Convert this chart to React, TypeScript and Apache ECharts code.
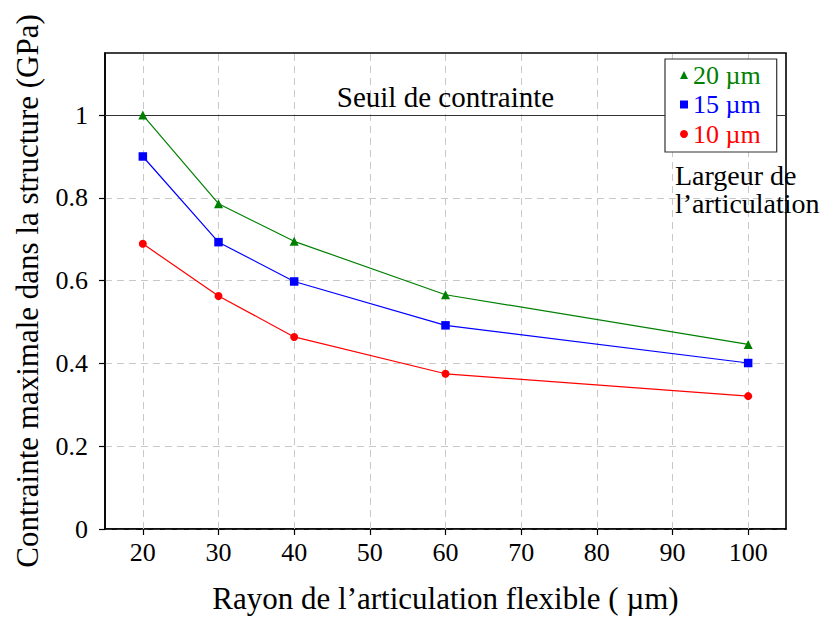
import React, { useEffect, useRef } from "react";
import * as echarts from "echarts";

const xValues = [20, 30, 40, 60, 100];
const series20 = [1.0, 0.786, 0.695, 0.566, 0.446];
const series15 = [0.9, 0.693, 0.598, 0.492, 0.401];
const series10 = [0.689, 0.563, 0.464, 0.375, 0.321];
const seriesNames = ["20 µm", "15 µm", "10 µm"];
const xTicks = [20, 30, 40, 50, 60, 70, 80, 90, 100];
const yTicks = [0, 0.2, 0.4, 0.6, 0.8, 1];
const threshold = 1;
const thresholdLabel = "Seuil de contrainte";
const sideNote = "Largeur de\nl’articulation";

const FONT = "'Liberation Serif', serif";

export default function App() {
  const ref = useRef<HTMLDivElement>(null);
  useEffect(() => {
    if (!ref.current) return;
    const chart = echarts.init(ref.current, null, { renderer: "svg" });
    const toPairs = (ys: number[]) => xValues.map((x, i) => [x, ys[i]]);
    const lineStyleFor = (c: string) => ({ color: c, width: 1.2 });
    chart.setOption({
      animation: false,
      backgroundColor: "#ffffff",
      textStyle: { fontFamily: FONT },
      grid: {
        left: 105,
        right: 39,
        top: 53,
        bottom: 87,
        show: true,
        borderColor: "#000",
        borderWidth: 1.6,
        backgroundColor: "transparent",
      },
      legend: {
        orient: "vertical",
        left: 665,
        top: 59,
        z: 10,
        backgroundColor: "#fff",
        borderColor: "#333",
        borderWidth: 1.2,
        borderRadius: 0,
        padding: [3, 16, 5, 15],
        itemWidth: 8,
        itemHeight: 8,
        itemGap: 3.5,
        textStyle: { fontFamily: FONT, fontSize: 26, lineHeight: 26 },
        data: [
          { name: seriesNames[0], icon: "triangle", textStyle: { color: "#008000" } },
          { name: seriesNames[1], icon: "rect", textStyle: { color: "#0000ff" } },
          { name: seriesNames[2], icon: "circle", textStyle: { color: "#ff0000" } },
        ],
      },
      xAxis: {
        type: "value",
        min: 15,
        max: 105,
        interval: 5,
        name: "Rayon de l’articulation flexible ( µm)",
        nameLocation: "middle",
        nameGap: 54,
        nameTextStyle: { fontFamily: FONT, fontSize: 31, color: "#000" },
        axisLine: { show: true, lineStyle: { color: "#000", width: 1.6 } },
        axisTick: {
          show: true,
          inside: false,
          length: 6,
          customValues: xTicks,
          lineStyle: { color: "#000", width: 1.2 },
        },
        axisLabel: {
          customValues: xTicks,
          margin: 10,
          fontFamily: FONT,
          fontSize: 26,
          color: "#000",
        },
        splitLine: { show: false },
      },
      yAxis: {
        type: "value",
        min: 0,
        max: 1.15,
        interval: 0.1,
        name: "Contrainte maximale dans la structure (GPa)",
        nameLocation: "middle",
        nameGap: 62,
        nameTextStyle: { fontFamily: FONT, fontSize: 31, color: "#000" },
        axisLine: { show: true, lineStyle: { color: "#000", width: 1.6 } },
        axisTick: {
          show: true,
          inside: false,
          length: 6,
          customValues: yTicks,
          lineStyle: { color: "#000", width: 1.2 },
        },
        axisLabel: {
          customValues: yTicks,
          margin: 17,
          fontFamily: FONT,
          fontSize: 26,
          color: "#000",
          formatter: (v: number) => String(Math.round(v * 10) / 10),
        },
        splitLine: {
          show: true,
          lineStyle: { color: "#c8c8c8", width: 1, type: [7, 5] },
        },
      },
      graphic: [
        {
          type: "text",
          left: 675,
          top: 161,
          z: 20,
          style: {
            text: sideNote,
            fontFamily: FONT,
            fontSize: 28,
            lineHeight: 28,
            fill: "#000",
          },
        },
      ],
      series: [
        {
          name: "grid-x",
          type: "line",
          data: [],
          z: 1,
          silent: true,
          markLine: {
            silent: true,
            symbol: "none",
            z: 1,
            label: { show: false },
            lineStyle: { color: "#c8c8c8", width: 1, type: [7, 5] },
            data: xTicks.map((x) => ({ xAxis: x })),
          },
        },
        {
          name: "threshold",
          type: "line",
          data: [],
          z: 3,
          silent: true,
          markLine: {
            silent: true,
            symbol: "none",
            z: 3,
            lineStyle: { color: "#333", width: 1.2, type: "solid" },
            label: {
              show: true,
              position: "insideMiddleTop",
              formatter: thresholdLabel,
              fontFamily: FONT,
              fontSize: 29,
              color: "#000",
              distance: 4,
            },
            data: [{ yAxis: threshold }],
          },
        },
        {
          name: seriesNames[0],
          type: "line",
          data: toPairs(series20),
          z: 4,
          symbol: "triangle",
          symbolSize: 9,
          itemStyle: { color: "#008000" },
          lineStyle: lineStyleFor("#008000"),
        },
        {
          name: seriesNames[1],
          type: "line",
          data: toPairs(series15),
          z: 4,
          symbol: "rect",
          symbolSize: 8.5,
          itemStyle: { color: "#0000ff" },
          lineStyle: lineStyleFor("#0000ff"),
        },
        {
          name: seriesNames[2],
          type: "line",
          data: toPairs(series10),
          z: 4,
          symbol: "circle",
          symbolSize: 8,
          itemStyle: { color: "#ff0000" },
          lineStyle: lineStyleFor("#ff0000"),
        },
      ],
    });
    return () => chart.dispose();
  }, []);
  return (
    <div
      ref={ref}
      style={{ position: "absolute", left: 0, top: 0, width: 825, height: 619 }}
    />
  );
}
